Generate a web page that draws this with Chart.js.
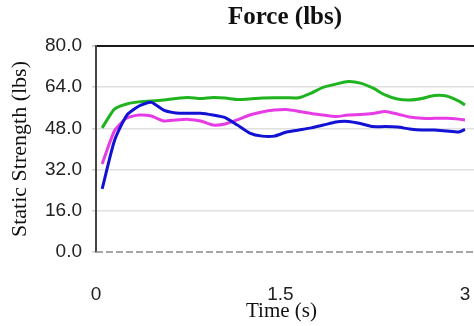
<!DOCTYPE html>
<html>
<head>
<meta charset="utf-8">
<script src="https://cdn.jsdelivr.net/npm/chart.js@4.4.1/dist/chart.umd.min.js"></script>
<style>
  html, body { margin: 0; padding: 0; background: #fff; overflow: hidden; }
  #wrap { width: 474px; height: 326px; overflow: hidden; }
</style>
</head>
<body>
<div id="wrap"><canvas id="force" width="570" height="326"></canvas></div>
<script>
/* temps (s) */
const times = [0.05, 0.15, 0.25, 0.35, 0.45, 0.55, 0.65, 0.75, 0.85, 0.95,
  1.05, 1.15, 1.25, 1.35, 1.45, 1.55, 1.65, 1.75, 1.85, 1.95,
  2.05, 2.15, 2.25, 2.35, 2.45, 2.55, 2.65, 2.75, 2.85, 2.95, 3.0];

/* force par courbe (lbs) */
const blueForce = [24.5, 43.2, 53.1, 56.7, 58.1, 55.1, 54.0, 53.9, 53.9, 53.2,
  52.2, 49.3, 46.2, 45.0, 45.0, 46.6, 47.4, 48.2, 49.3, 50.5,
  50.7, 49.9, 48.7, 48.7, 48.5, 47.8, 47.4, 47.4, 47.0, 46.6, 47.6];
const magentaForce = [34.2, 47.0, 52.0, 53.2, 52.8, 50.9, 51.3, 51.5, 50.9, 49.3,
  49.7, 51.3, 53.2, 54.4, 55.1, 55.3, 54.6, 53.8, 53.2, 52.6,
  53.2, 53.4, 53.8, 54.6, 53.6, 52.4, 51.9, 51.9, 51.9, 51.6, 51.3];
const greenForce = [48.2, 55.5, 57.5, 58.3, 58.6, 59.0, 59.6, 60.0, 59.6, 60.0,
  59.8, 59.2, 59.4, 59.8, 59.9, 59.9, 59.9, 61.7, 64.0, 65.2,
  66.2, 65.6, 63.7, 61.0, 59.4, 59.0, 59.6, 60.8, 60.6, 58.6, 57.1];

const xTicks = [0, 1.5, 3];
const yTicks = [0, 16, 32, 48, 64, 80];
const xTitle = "Time (s)";

function points(values) {
  return values.map((v, i) => ({ x: times[i], y: v }));
}

/* ligne zéro en pointillé + titre de l'axe x sous le 1.5 */
const extras = {
  id: "extras",
  beforeDatasetsDraw(chart) {
    const { ctx, chartArea } = chart;
    const y = chart.scales.y.getPixelForValue(0);
    ctx.save();
    ctx.strokeStyle = "#8a8a8a";
    ctx.lineWidth = 1.5;
    ctx.setLineDash([7, 3]);
    ctx.beginPath();
    ctx.moveTo(chartArea.left, y);
    ctx.lineTo(chartArea.right, y);
    ctx.stroke();
    ctx.restore();
  },
  afterDraw(chart) {
    const ctx = chart.ctx;
    const x = chart.scales.x.getPixelForValue(1.5);
    ctx.save();
    ctx.fillStyle = "#111";
    ctx.font = "21px 'Liberation Serif'";
    ctx.textAlign = "center";
    ctx.textBaseline = "middle";
    ctx.fillText(xTitle, x + 1, 311);
    ctx.restore();
  },
};

const bg = {
  id: "bg",
  beforeDraw(chart) {
    const ctx = chart.ctx;
    ctx.save();
    ctx.fillStyle = "#fff";
    ctx.fillRect(0, 0, chart.width, chart.height);
    ctx.restore();
  },
};

const graph = document.getElementById("force");

new Chart(graph, {
  type: "line",
  data: {
    datasets: [
      { label: "bleu", data: points(blueForce), borderColor: "#1212d4" },
      { label: "magenta", data: points(magentaForce), borderColor: "#e63ce6" },
      { label: "vert", data: points(greenForce), borderColor: "#1fb41f" },
    ],
  },
  options: {
    responsive: false,
    animation: false,
    layout: { padding: 0 },
    elements: {
      point: { radius: 0 },
      line: { borderWidth: 3, tension: 0.2 },
    },
    plugins: {
      legend: { display: false },
      tooltip: { enabled: false },
      title: {
        display: true,
        text: "Force (lbs)",
        color: "#111",
        font: { family: "Liberation Serif", size: 25, weight: "bold" },
        padding: { top: 3, bottom: 13 },
      },
    },
    scales: {
      x: {
        type: "linear",
        min: 0,
        max: 3.854,
        afterBuildTicks: (s) => {
          s.ticks = xTicks.map((v) => ({ value: v }));
        },
        afterFit: (s) => {
          s.height = 74;
        },
        grid: { display: false, drawTicks: false },
        border: { display: false },
        ticks: {
          autoSkip: false,
          maxRotation: 0,
          padding: 31,
          color: "#222",
          font: { family: "Liberation Sans", size: 19 },
        },
      },
      y: {
        min: 0,
        max: 80,
        afterBuildTicks: (s) => {
          s.ticks = yTicks.map((v) => ({ value: v }));
        },
        afterFit: (s) => {
          s.width = 96;
        },
        grid: {
          color: (c) => (c.tick.value === 80 ? "#1a1a1a" : c.tick.value === 0 ? "rgba(0,0,0,0)" : "#e0e0e0"),
          lineWidth: (c) => (c.tick.value === 80 ? 2 : 1.5),
          tickColor: "#cfcfcf",
          tickLength: 4,
        },
        border: { color: "#444", width: 2 },
        ticks: {
          padding: 10,
          color: "#222",
          font: { family: "Liberation Sans", size: 19 },
          callback: (v) => v.toFixed(1),
        },
        title: {
          display: true,
          text: "Static Strength (lbs)",
          color: "#111",
          font: { family: "Liberation Serif", size: 22 },
          padding: { top: 7, bottom: 0 },
        },
      },
    },
  },
  plugins: [bg, extras],
});
</script>
</body>
</html>
